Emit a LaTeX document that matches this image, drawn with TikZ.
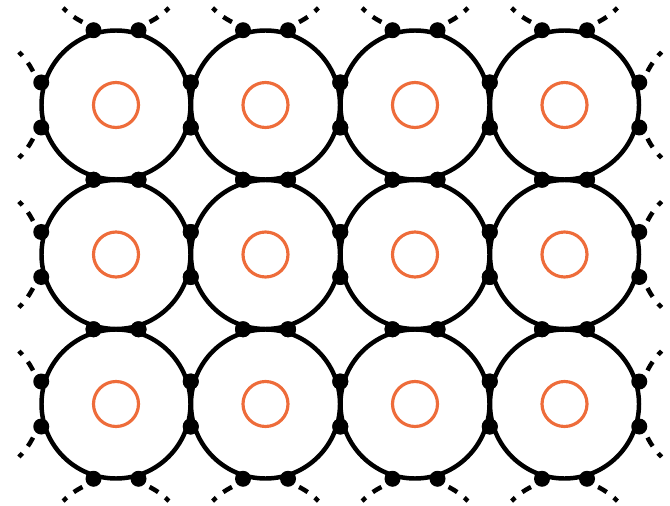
\documentclass[tikz,border=0pt]{standalone}
\usetikzlibrary{calc}
\definecolor{ringorange}{RGB}{238,108,58}
\begin{document}
\begin{tikzpicture}[
        cell/.style={circle, draw, line width=2.55pt, minimum size=2.98cm, inner sep=0pt},
        ring/.style={circle, draw=ringorange, line width=1.8pt, minimum size=0.9cm, inner sep=0pt},
        dot/.style={circle, fill, inner sep=0pt, minimum size=0.32cm},
        stub/.style={line width=2.55pt, dash pattern=on 0.2cm off 0.18cm on 0.1cm off 0.24cm, dash phase=0.48cm}
    ]
        \def\R{1.49}
        \def\gap{2.99}
        \useasboundingbox (0,0) rectangle (13.4,10.1);

        % Cells and rings
        \foreach \i in {0,...,3} {
            \foreach \j in {0,1,2} {
                \coordinate (c\i\j) at ({2.32+\i*\gap}, {8.0-\j*\gap});
                \node[cell] (b\i\j) at (c\i\j) {};
                \node[ring] (r\i\j) at (c\i\j) {};
            }
        }

        % Dots where the cells meet
        \foreach \i in {0,...,3} {
            \foreach \j in {0,1,2} {
                \foreach \p [count=\k] in {{1.495,0.45},{1.495,-0.45},{-1.495,0.45},{-1.495,-0.45},
                                           {0.45,1.495},{-0.45,1.495},{0.45,-1.495},{-0.45,-1.495}}
                    \node[dot] (d\i\j\k) at ($(c\i\j)+(\p)$) {};
            }
        }

        % Stubs of the cells outside
        \foreach \s in {-1,1} {
            \foreach \i in {0,...,3} {
                \draw[stub] ($(c\i0)+(0,\gap)+({270+\s*17.58}:\R)$) arc[start angle={270+\s*17.58}, delta angle={\s*28}, radius=\R];
                \draw[stub] ($(c\i2)+(0,-\gap)+({90-\s*17.58}:\R)$) arc[start angle={90-\s*17.58}, delta angle={-\s*28}, radius=\R];
            }
            \foreach \j in {0,1,2} {
                \draw[stub] ($(c0\j)+(-\gap,0)+({\s*17.58}:\R)$) arc[start angle={\s*17.58}, delta angle={\s*28}, radius=\R];
                \draw[stub] ($(c3\j)+(\gap,0)+({180-\s*17.58}:\R)$) arc[start angle={180-\s*17.58}, delta angle={-\s*28}, radius=\R];
            }
        }

    \end{tikzpicture}
\end{document}
